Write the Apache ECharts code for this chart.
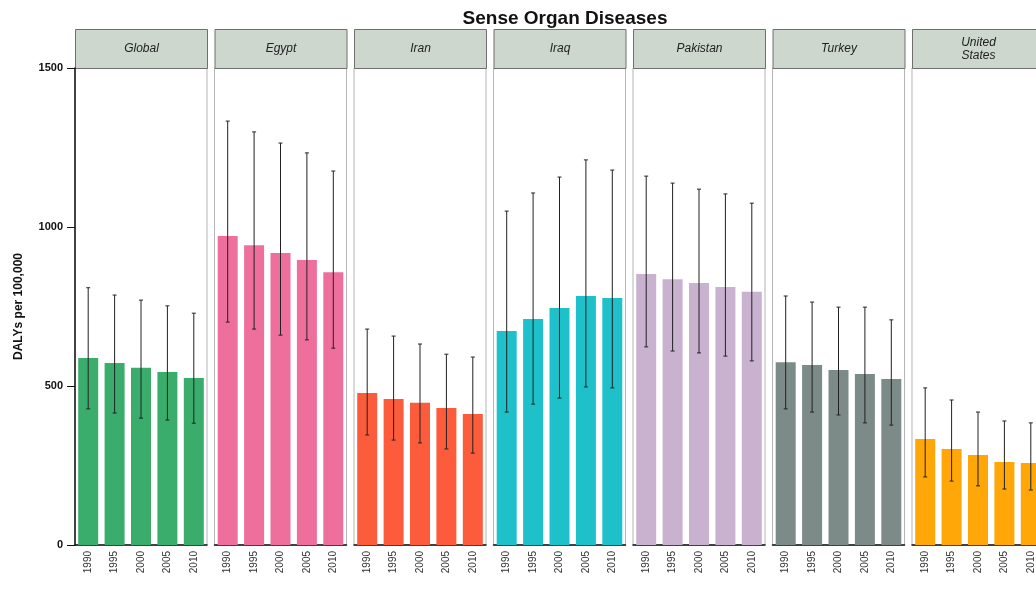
<!DOCTYPE html>
<html>
<head>
<meta charset="utf-8">
<script src="https://cdn.jsdelivr.net/npm/echarts@6/dist/echarts.min.js"></script>
<style>
  html, body { margin: 0; padding: 0; background: #fff; overflow: hidden; }
  #chart { width: 1050px; height: 589px; }
</style>
</head>
<body>
<div id="chart"></div>
<script>
// data
const years = ["1990", "1995", "2000", "2005", "2010"];
const regions = ["Global", "Egypt", "Iran", "Iraq", "Pakistan", "Turkey", "United\nStates"];
const barColors = ["#3aad6c", "#ef6f9c", "#fd5c3c", "#1ec1c9", "#c8b2d0", "#7c8b88", "#ffa608"];

const globalVals = [588, 572, 557, 544, 525];
const globalLow  = [428, 415, 399, 393, 383];
const globalHigh = [809, 786, 770, 752, 729];

const egyptVals = [972, 943, 918, 896, 858];
const egyptLow  = [701, 679, 660, 645, 619];
const egyptHigh = [1333, 1299, 1264, 1233, 1176];

const iranVals = [478, 459, 447, 431, 412];
const iranLow  = [346, 330, 321, 302, 289];
const iranHigh = [679, 657, 632, 600, 591];

const iraqVals = [673, 711, 745, 783, 777];
const iraqLow  = [418, 443, 462, 497, 494];
const iraqHigh = [1050, 1107, 1157, 1211, 1179];

const pakistanVals = [852, 836, 824, 811, 796];
const pakistanLow  = [623, 610, 604, 594, 579];
const pakistanHigh = [1160, 1138, 1119, 1104, 1075];

const turkeyVals = [575, 566, 550, 538, 522];
const turkeyLow  = [428, 418, 409, 384, 377];
const turkeyHigh = [783, 764, 748, 748, 708];

const usVals = [333, 302, 283, 261, 258];
const usLow  = [214, 201, 186, 176, 173];
const usHigh = [494, 456, 418, 390, 384];

const yTicks = [0, 500, 1000, 1500];

const vals  = [globalVals, egyptVals, iranVals, iraqVals, pakistanVals, turkeyVals, usVals];
const lows  = [globalLow, egyptLow, iranLow, iraqLow, pakistanLow, turkeyLow, usLow];
const highs = [globalHigh, egyptHigh, iranHigh, iraqHigh, pakistanHigh, turkeyHigh, usHigh];

// layout (the last panel runs past the right edge of the window, as in the original)
const panelLeft = 75, panelStep = 139.5, panelW = 132;
const plotTop = 68, plotBottom = 545, stripTop = 29;

const chart = echarts.init(document.getElementById("chart"));

let grids = [], xAxes = [], yAxes = [], series = [], graphics = [];

regions.forEach(function (name, i) {
    const left = panelLeft + panelStep * i;
    grids.push({
        left: left, top: plotTop, width: panelW, height: plotBottom - plotTop,
        show: true, borderColor: "#b4b4b4", borderWidth: 1, backgroundColor: "#fff"
    });
    xAxes.push({
        type: "category", gridIndex: i, data: years,
        axisLine: { lineStyle: { color: "#111", width: 1.5 } },
        axisTick: { alignWithLabel: true, length: 5, lineStyle: { color: "#111" } },
        axisLabel: { rotate: 90, fontSize: 10, color: "#333", margin: 6, fontFamily: "Liberation Sans" }
    });
    yAxes.push({
        type: "value", gridIndex: i, min: 0, max: 1500, interval: 500,
        splitLine: { show: false },
        axisLine: { show: i === 0, lineStyle: { color: "#111", width: 1.5 } },
        axisTick: { show: i === 0, length: 8, lineStyle: { color: "#111" } },
        axisLabel: {
            show: i === 0, fontSize: 11, fontWeight: "bold", color: "#111", margin: 12,
            fontFamily: "Liberation Sans",
            formatter: function (v) { return yTicks.indexOf(v) >= 0 ? String(v) : ""; }
        },
        name: i === 0 ? "DALYs per 100,000" : "",
        nameLocation: "middle", nameGap: 50, nameRotate: 90,
        nameTextStyle: { fontSize: 12, fontWeight: "bold", color: "#111", fontFamily: "Liberation Sans" }
    });
    series.push({
        type: "bar", xAxisIndex: i, yAxisIndex: i, data: vals[i],
        barWidth: 20, itemStyle: { color: barColors[i] }
    });
    series.push({
        type: "custom", xAxisIndex: i, yAxisIndex: i,
        data: years.map(function (y, k) { return [k, lows[i][k], highs[i][k]]; }),
        renderItem: function (params, api) {
            const lo = api.coord([api.value(0), api.value(1)]);
            const hi = api.coord([api.value(0), api.value(2)]);
            const cap = 2;
            const st = { stroke: "#222", lineWidth: 1 };
            return {
                type: "group",
                children: [
                    { type: "line", shape: { x1: lo[0], y1: lo[1], x2: hi[0], y2: hi[1] }, style: st },
                    { type: "line", shape: { x1: lo[0] - cap, y1: lo[1], x2: lo[0] + cap, y2: lo[1] }, style: st },
                    { type: "line", shape: { x1: hi[0] - cap, y1: hi[1], x2: hi[0] + cap, y2: hi[1] }, style: st }
                ]
            };
        },
        z: 5
    });
    // facet strip
    graphics.push({
        type: "group", left: left, top: stripTop,
        children: [
            { type: "rect", shape: { x: 0, y: 0, width: panelW, height: plotTop - stripTop },
              style: { fill: "#cdd7cd", stroke: "#6f6f6f", lineWidth: 1 } },
            { type: "text", x: panelW / 2, y: (plotTop - stripTop) / 2,
              style: { text: name, fill: "#222", font: "italic 12px 'Liberation Sans'",
                       align: "center", verticalAlign: "middle", lineHeight: 13 } }
        ]
    });
});

chart.setOption({
    animation: false,
    title: {
        text: "Sense Organ Diseases", left: 560, top: 4, textAlign: "center",
        textStyle: { fontSize: 19, fontWeight: "bold", color: "#111", fontFamily: "Liberation Sans" }
    },
    grid: grids, xAxis: xAxes, yAxis: yAxes, series: series, graphic: graphics
});
</script>
</body>
</html>
